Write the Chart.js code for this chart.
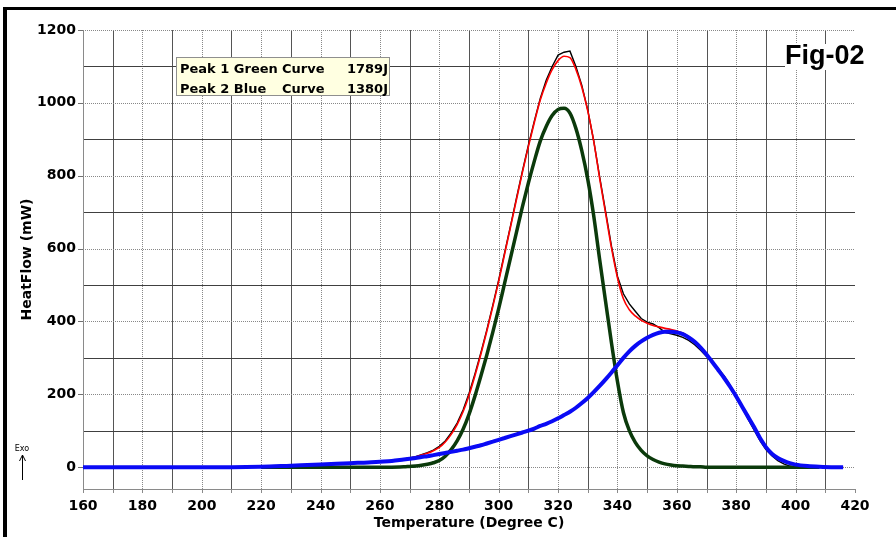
<!DOCTYPE html>
<html>
<head>
<meta charset="utf-8">
<script src="https://cdn.jsdelivr.net/npm/chart.js@4/dist/chart.umd.min.js"></script>
<style>
  html, body { margin: 0; padding: 0; background: #fff; }
  canvas { display: block; }
</style>
</head>
<body>
<canvas id="dscChart" width="896" height="537"></canvas>
<script>
// temperature grid (degree C) shared by all curves
const temps = [
    160, 170, 180, 190, 200, 210, 220, 230, 240, 250,
    256, 260, 264, 268, 270, 272, 274, 276, 278, 280,
    282, 284, 286, 288, 290, 292, 294, 296, 298, 300,
    302, 304, 306, 308, 310, 312, 314, 316, 318, 320,
    322, 324, 326, 328, 330, 332, 334, 336, 338, 340,
    342, 344, 346, 348, 350, 352, 354, 356, 358, 360,
    362, 364, 366, 368, 370, 372, 374, 376, 378, 380,
    382, 384, 386, 388, 390, 392, 394, 396, 398, 400,
    404, 408, 412, 416
];

// measured heat flow (black)
const measured = [
    0, 0, 0, 0, 0, 0, 1, 3, 6, 10,
    12, 14, 17, 22, 25, 29, 34, 40, 47, 57,
    72, 94, 121, 157, 202, 256, 314, 377, 444, 514,
    589, 663, 739, 813, 884, 950, 1012, 1062, 1100, 1131,
    1139, 1142, 1100, 1048, 980, 896, 797, 702, 606, 524,
    476, 448, 428, 408, 398, 393, 383, 370, 366, 362,
    356, 348, 336, 321, 304, 286, 270, 250, 224, 196,
    163, 132, 102, 73, 48, 31, 18, 9, 3, 0,
    -3, -2, null, null
];

// fitted sum (red)
const fitSum = [
    0, 0, 0, 0, 0, 0, 1, 4, 7, 11,
    13, 15, 17, 22, 25, 28, 33, 38, 45, 54,
    69, 90, 117, 152, 197, 251, 310, 373, 440, 510,
    585, 660, 735, 810, 880, 946, 1008, 1054, 1091, 1116,
    1128, 1124, 1092, 1043, 978, 895, 793, 697, 601, 520,
    462, 432, 415, 403, 395, 389, 385, 381, 378, 374,
    368, 358, 345, 329, 309, 288, 266, 244, 220, 194,
    166, 138, 110, 80, 55, 37, 25, 17, 11, 7,
    3, 1, 0, 0
];

// peak 1 (green)
const peakGreen = [
    null, null, null, null, null, null, 0, 0, 0, 0,
    0, 0, 0, 1, 2, 3, 5, 8, 12, 18,
    30, 48, 72, 104, 145, 195, 250, 308, 370, 435,
    505, 575, 645, 715, 780, 840, 895, 935, 965, 982,
    985, 972, 930, 868, 790, 690, 570, 455, 340, 235,
    150, 100, 68, 46, 31, 21, 14, 9, 6, 4,
    3, 2, 1, 1, 0, 0, 0, 0, 0, 0,
    0, 0, 0, 0, 0, 0, 0, 0, 0, 0,
    0, 0, null, null
];

// peak 2 (blue)
const peakBlue = [
    0, 0, 0, 0, 0, 0, 1, 4, 7, 11,
    13, 15, 17, 21, 23, 25, 28, 30, 33, 36,
    39, 42, 45, 48, 52, 56, 60, 65, 70, 75,
    80, 85, 90, 95, 100, 106, 113, 119, 126, 134,
    143, 152, 163, 176, 190, 206, 223, 241, 260, 280,
    300, 318, 333, 345, 355, 363, 369, 372, 372, 370,
    365, 356, 344, 328, 309, 288, 266, 244, 220, 194,
    166, 138, 110, 80, 55, 37, 25, 17, 11, 7,
    3, 1, 0, 0
];

const xTicks = [160, 180, 200, 220, 240, 260, 280, 300, 320, 340, 360, 380, 400, 420];
const yTicks = [0, 200, 400, 600, 800, 1000, 1200];

function toPoints(values) {
    return temps.map((t, i) => ({ x: t, y: values[i] }));
}

const boldFont = '"DejaVu Sans", Verdana, sans-serif';

const framePlugin = {
    id: 'frame',
    beforeDraw(chart) {
        const ctx = chart.ctx;
        ctx.save();
        ctx.fillStyle = '#fff';
        ctx.fillRect(0, 0, chart.width, chart.height);
        ctx.fillStyle = '#000';
        ctx.fillRect(3, 7, 4, chart.height - 7);
        ctx.fillRect(3, 7, chart.width - 3, 3);
        ctx.restore();
    }
};

const gridPlugin = {
    id: 'dscGrid',
    beforeDatasetsDraw(chart) {
        const { ctx, chartArea: area, scales } = chart;
        const xs = scales.x, ys = scales.y;
        ctx.save();
        ctx.lineWidth = 1;

        function seg(x1, y1, x2, y2) {
            ctx.beginPath();
            ctx.moveTo(x1, y1);
            ctx.lineTo(x2, y2);
            ctx.stroke();
        }

        // vertical lines every 10 degrees
        for (let t = 170; t < 420; t += 10) {
            const px = Math.round(xs.getPixelForValue(t)) + 0.5;
            const labelled = t % 20 === 0;
            ctx.strokeStyle = labelled ? '#888' : '#555';
            ctx.setLineDash(labelled ? [1, 1] : []);
            seg(px, area.top, px, area.bottom);
        }

        // horizontal lines every 100 mW
        for (let v = 0; v <= 1200; v += 100) {
            const py = Math.round(ys.getPixelForValue(v)) + 0.5;
            const labelled = v % 200 === 0;
            ctx.strokeStyle = labelled ? '#888' : '#404040';
            ctx.setLineDash(labelled ? [1, 1] : []);
            seg(area.left, py, area.right, py);
        }

        ctx.setLineDash([]);
        ctx.strokeStyle = '#8a8a8a';
        const bottom = Math.round(area.bottom) + 0.5;
        const left = Math.round(area.left) + 0.5;
        seg(area.left, bottom, area.right, bottom);
        seg(left, area.top, left, area.bottom + 4);
        for (let t = 160; t <= 420; t += 10) {
            const px = Math.round(xs.getPixelForValue(t)) + 0.5;
            seg(px, area.bottom, px, area.bottom + 4);
        }
        ctx.strokeStyle = '#707070';
        yTicks.forEach(v => {
            const py = Math.round(ys.getPixelForValue(v)) + 0.5;
            seg(area.left - 5, py, area.left, py);
        });
        ctx.restore();
    }
};

const notesPlugin = {
    id: 'notes',
    afterDraw(chart) {
        const ctx = chart.ctx;
        ctx.save();

        // peak legend box
        ctx.fillStyle = '#ffffe1';
        ctx.fillRect(176, 57, 214, 39);
        ctx.strokeStyle = '#8f8f8f';
        ctx.lineWidth = 1;
        ctx.strokeRect(176.5, 57.5, 213, 38);
        ctx.fillStyle = '#000';
        ctx.font = 'bold 13px ' + boldFont;
        ctx.textBaseline = 'alphabetic';
        ctx.textAlign = 'left';
        ctx.fillText('Peak 1 Green', 180, 73);
        ctx.fillText('Curve', 282, 73);
        ctx.fillText('Peak 2 Blue', 180, 93);
        ctx.fillText('Curve', 282, 93);
        ctx.textAlign = 'right';
        ctx.fillText('1789J', 388, 73);
        ctx.fillText('1380J', 388, 93);

        // figure tag
        ctx.fillStyle = '#fff';
        ctx.fillRect(785, 44, 84, 26);
        ctx.fillStyle = '#000';
        ctx.font = 'bold 27px "Liberation Sans", Arial, sans-serif';
        ctx.textAlign = 'left';
        ctx.fillText('Fig-02', 785, 64);

        // exo marker
        ctx.font = '8px ' + boldFont;
        ctx.textAlign = 'center';
        ctx.textBaseline = 'middle';
        ctx.fillText('Exo', 22, 449);
        ctx.strokeStyle = '#000';
        ctx.beginPath();
        ctx.moveTo(22.5, 480);
        ctx.lineTo(22.5, 455);
        ctx.moveTo(19.5, 461);
        ctx.lineTo(22.5, 455);
        ctx.lineTo(25.5, 461);
        ctx.stroke();
        ctx.restore();
    }
};

new Chart(document.getElementById('dscChart'), {
    type: 'line',
    data: {
        datasets: [
            {
                label: 'Peak 2',
                data: toPoints(peakBlue),
                borderColor: '#0a0af5',
                borderWidth: 4,
                cubicInterpolationMode: 'monotone',
                order: 1
            },
            {
                label: 'Peak 1',
                data: toPoints(peakGreen),
                borderColor: '#0b3a0b',
                borderWidth: 3.5,
                cubicInterpolationMode: 'monotone',
                order: 2
            },
            {
                label: 'Fit',
                data: toPoints(fitSum),
                borderColor: '#ff0000',
                borderWidth: 1.6,
                cubicInterpolationMode: 'monotone',
                order: 3
            },
            {
                label: 'Measured',
                data: toPoints(measured),
                borderColor: '#000',
                borderWidth: 1.4,
                tension: 0,
                order: 4
            }
        ]
    },
    options: {
        responsive: false,
        animation: false,
        devicePixelRatio: 1,
        spanGaps: false,
        elements: { point: { radius: 0 } },
        layout: { padding: { left: 14, right: 41, top: 30, bottom: 0 } },
        plugins: {
            legend: { display: false },
            tooltip: { enabled: false }
        },
        scales: {
            x: {
                type: 'linear',
                min: 160,
                max: 420,
                afterBuildTicks: s => { s.ticks = xTicks.map(v => ({ value: v })); },
                afterFit: s => { s.height = 48; },
                grid: { display: false, drawTicks: false },
                border: { display: false },
                ticks: {
                    padding: 9,
                    color: '#000',
                    font: { family: boldFont, size: 14, weight: 'bold' },
                    callback: v => String(v)
                },
                title: {
                    display: true,
                    text: 'Temperature (Degree C)',
                    color: '#000',
                    font: { family: boldFont, size: 14, weight: 'bold' },
                    padding: { top: 0, bottom: 5 }
                }
            },
            y: {
                min: -60,
                max: 1200,
                afterBuildTicks: s => { s.ticks = yTicks.map(v => ({ value: v })); },
                afterFit: s => { s.width = 69; },
                grid: { display: false, drawTicks: false },
                border: { display: false },
                ticks: {
                    padding: 7,
                    color: '#000',
                    font: { family: boldFont, size: 14, weight: 'bold' },
                    callback: v => String(v)
                },
                title: {
                    display: true,
                    text: 'HeatFlow (mW)',
                    color: '#000',
                    font: { family: boldFont, size: 14, weight: 'bold' },
                    padding: { top: 5, bottom: 0 }
                }
            }
        }
    },
    plugins: [framePlugin, gridPlugin, notesPlugin]
});
</script>
</body>
</html>
